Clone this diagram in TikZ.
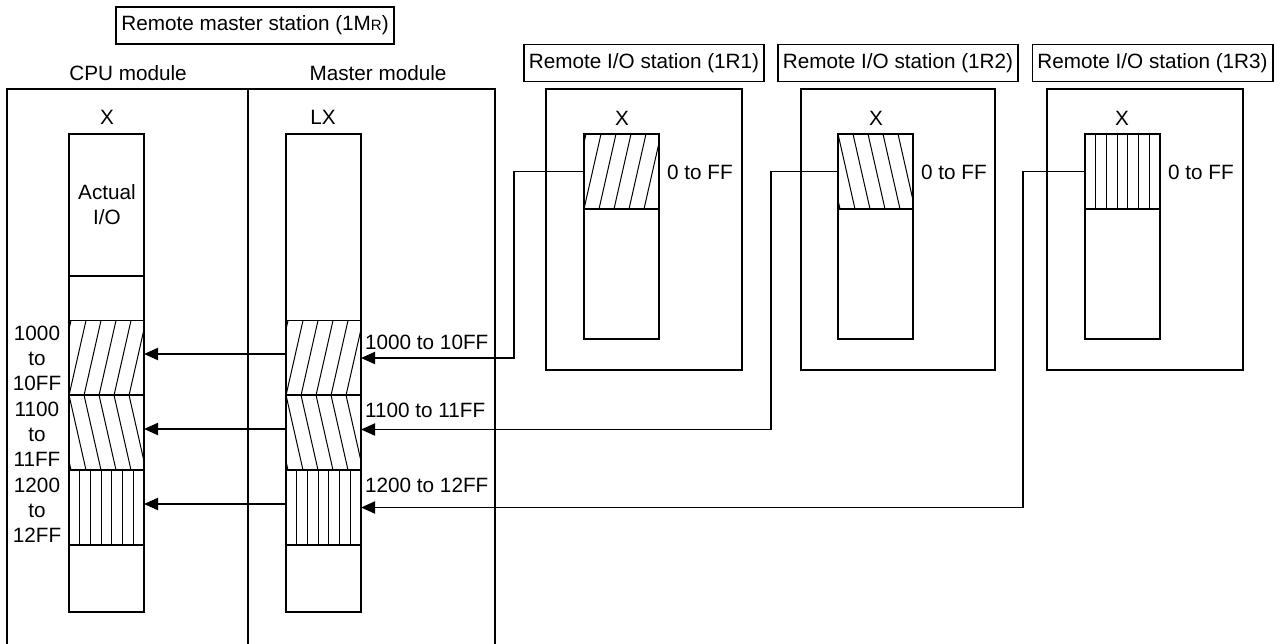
\documentclass[tikz,border=0pt]{standalone}
\usepackage{fontspec}
\setmainfont{Liberation Sans}
\usetikzlibrary{arrows.meta}
\tikzset{
  txt/.style={font=\fontsize{20.7}{25}\selectfont, inner sep=0pt, align=center},
  ttl/.style={draw, line width=1.9pt, font=\fontsize{20.7}{25}\selectfont, inner xsep=5pt, minimum height=37pt},
  blk/.style={draw, line width=1.9pt, minimum width=75pt, minimum height=75pt, inner sep=0pt, outer sep=0pt},
  arr/.style={line width=1.9pt, -{Triangle[length=14pt,width=12pt]}},
  frm/.style={line width=1.9pt},
  hat/.style={line width=1pt}
}
% hatchings of the data blocks
\newcommand{\fwdhatch}[1]{%
  \begin{scope}
    \clip (#1.south west) rectangle (#1.north east);
    \foreach \k in {-2,...,5}
      \draw[hat] ([xshift=\k*15pt]#1.south west) -- ([xshift=\k*15pt+17pt]#1.north west);
  \end{scope}}
\newcommand{\bckhatch}[1]{%
  \begin{scope}
    \clip (#1.south west) rectangle (#1.north east);
    \foreach \k in {-2,...,5}
      \draw[hat] ([xshift=\k*15pt]#1.north west) -- ([xshift=\k*15pt+17pt]#1.south west);
  \end{scope}}
\newcommand{\verthatch}[1]{%
  \foreach \k in {1,...,6}
    \draw[hat] ([xshift=\k*10.714pt]#1.south west) -- ([xshift=\k*10.714pt]#1.north west);}

\begin{document}
\begin{tikzpicture}[x=1pt, y=-1pt]
\useasboundingbox (0,0) rectangle (1277,644);

% remote master station
\node[ttl] (mttl) at (255,25.5) {Remote master station (1M{\fontsize{15}{15}\selectfont R})};
\node[txt] (cpul) at (128,73) {CPU module};
\node[txt] (masl) at (378,73) {Master module};
\draw[frm] (7,644) -- (7,89) -- (495,89) -- (495,644);
\draw[frm] (248,89) -- (248,644);

% CPU module, X
\node[txt] (cpux) at (107,117) {X};
\draw[frm] (69,134) rectangle (144,612);
\draw[frm] (69,276) -- (144,276);
\node[txt] (act) at (107,205) {Actual\\I/O};
\node[blk] (cpuA) at (106.5,358) {};
\node[blk] (cpuB) at (106.5,432.5) {};
\node[blk] (cpuC) at (106.5,507.5) {};
\fwdhatch{cpuA}
\bckhatch{cpuB}
\verthatch{cpuC}
\node[txt] (adrA) at (37,358) {1000\\to\\10FF};
\node[txt] (adrB) at (37,434) {1100\\to\\11FF};
\node[txt] (adrC) at (37,510) {1200\\to\\12FF};

% master module, LX
\node[txt] (masx) at (323,117) {LX};
\draw[frm] (286,134) rectangle (361,612);
\node[blk] (masA) at (323.5,358) {};
\node[blk] (masB) at (323.5,432.5) {};
\node[blk] (masC) at (323.5,507.5) {};
\fwdhatch{masA}
\bckhatch{masB}
\verthatch{masC}
\node[txt, anchor=west] (rngA) at (365,342) {1000 to 10FF};
\node[txt, anchor=west] (rngB) at (365,410) {1100 to 11FF};
\node[txt, anchor=west] (rngC) at (365,485) {1200 to 12FF};

% remote I/O stations
\node[ttl] (ttl1) at (644,63) {Remote I/O station (1R1)};
\node[ttl] (ttl2) at (898,63) {Remote I/O station (1R2)};
\node[ttl] (ttl3) at (1152.5,63) {Remote I/O station (1R3)};

\draw[frm] (546,89) rectangle (742,370);
\draw[frm] (584,134) rectangle (659,339);
\node[txt] (iox1) at (622,118) {X};
\node[blk] (ioA) at (621.5,171.5) {};
\fwdhatch{ioA}
\node[txt, anchor=west] (iorA) at (667,172) {0 to FF};

\draw[frm] (801,89) rectangle (995,370);
\draw[frm] (838,134) rectangle (913,339);
\node[txt] (iox2) at (876,118) {X};
\node[blk] (ioB) at (875.5,171.5) {};
\bckhatch{ioB}
\node[txt, anchor=west] (iorB) at (921,172) {0 to FF};

\draw[frm] (1047,89) rectangle (1243,370);
\draw[frm] (1085,134) rectangle (1160,339);
\node[txt] (iox3) at (1122,118) {X};
\node[blk] (ioC) at (1122.5,171.5) {};
\verthatch{ioC}
\node[txt, anchor=west] (iorC) at (1168,172) {0 to FF};

% refresh links
\draw[arr] (ioA.west) -- ++(-70,0) |- (masA.east);
\draw[arr] (ioB.west) -- ++(-67,0) |- ([yshift=3pt]masB.east);
\draw[arr] (ioC.west) -- ++(-62,0) |- (masC.east);
\draw[arr] ([yshift=4pt]masA.west) -- ([yshift=4pt]cpuA.east);
\draw[arr] ([yshift=3.5pt]masB.west) -- ([yshift=3.5pt]cpuB.east);
\draw[arr] ([yshift=3.5pt]masC.west) -- ([yshift=3.5pt]cpuC.east);
\end{tikzpicture}
\end{document}
